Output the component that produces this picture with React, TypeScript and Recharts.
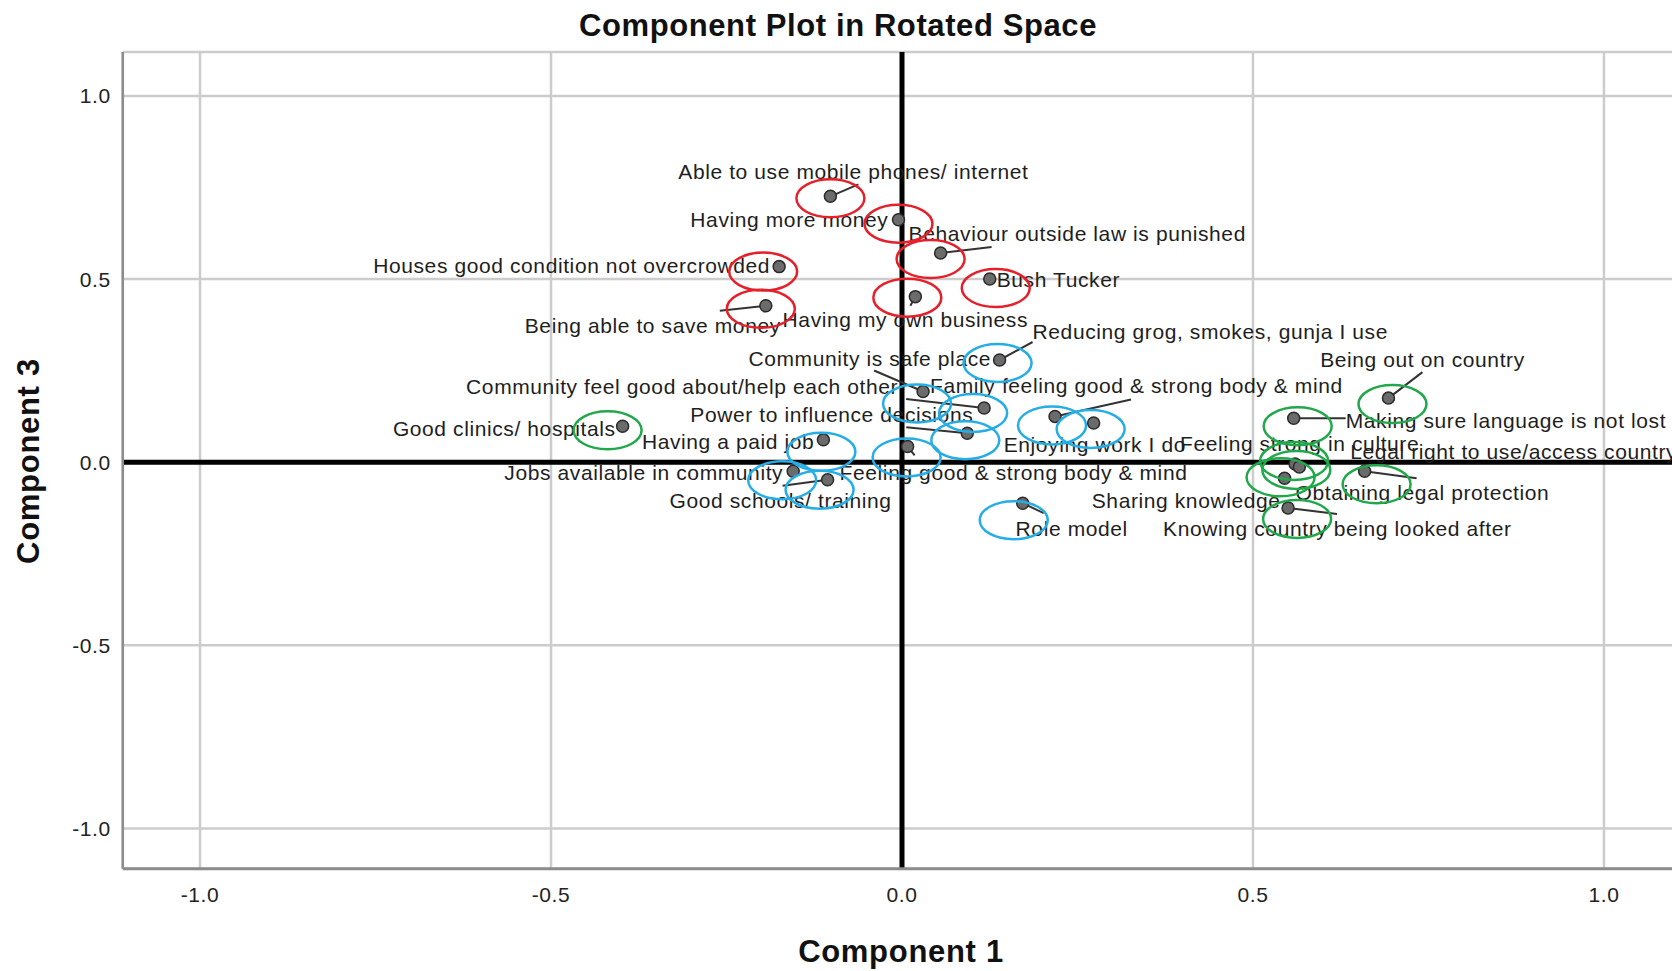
import { CartesianGrid, ReferenceLine, Scatter, ScatterChart, XAxis, YAxis } from 'recharts';

// loadings
const ITEMS = [
  'Able to use mobile phones/ internet',
  'Having more money',
  'Behaviour outside law is punished',
  'Houses good condition not overcrowded',
  'Bush Tucker',
  'Having my own business',
  'Being able to save money',
  'Reducing grog, smokes, gunja I use',
  'Community is safe place',
  'Community feel good about/help each other',
  'Power to influence decisions',
  'Family feeling good & strong body & mind',
  'Enjoying work I do',
  'Feeling good & strong body & mind',
  'Having a paid job',
  'Jobs available in community',
  'Good schools/ training',
  'Role model',
  'Good clinics/ hospitals',
  'Being out on country',
  'Making sure language is not lost',
  'Feeling strong in culture',
  'Legal right to use/access country',
  'Sharing knowledge',
  'Obtaining legal protection',
  'Knowing country being looked after',
];
const COMPONENT_1 = [
  -0.102, -0.005, 0.055, -0.175, 0.125, 0.019, -0.194,
  0.139, 0.030, 0.117, 0.093, 0.218, 0.273, 0.008, -0.112, -0.155, -0.106, 0.172,
  -0.398, 0.693, 0.558, 0.560, 0.566, 0.545, 0.659, 0.550,
];
const COMPONENT_3 = [
  0.726, 0.662, 0.571, 0.534, 0.500, 0.452, 0.427,
  0.279, 0.193, 0.148, 0.079, 0.125, 0.107, 0.043, 0.061, -0.025, -0.048, -0.112,
  0.098, 0.175, 0.120, -0.005, -0.013, -0.044, -0.025, -0.125,
];
// hand-drawn circle group of each item
const CLUSTER = [1, 1, 1, 1, 1, 1, 1, 2, 2, 2, 2, 2, 2, 2, 2, 2, 2, 2, 3, 3, 3, 3, 3, 3, 3, 3];
const TICKS = [-1, -0.5, 0, 0.5, 1];

// label placement (px from the point), leader line ends, ring offsets
const LABEL_AT: [number, number, 'start' | 'middle' | 'end'][] = [
  [23, -25, 'middle'], [-10, 0, 'end'], [-32, -20, 'start'], [-9, -1, 'end'], [7, 0, 'start'],
  [-10, 23, 'middle'], [15, 20, 'end'], [33, -29, 'start'], [68, -33, 'end'], [-86, -21, 'end'],
  [6, -19, 'end'], [-125, -31, 'start'], [-90, 22, 'start'], [-68, 26, 'start'], [-9, 2, 'end'],
  [-10, 1, 'end'], [-47, 21, 'middle'], [49, 25, 'middle'], [-7, 2, 'end'], [34, -39, 'middle'],
  [52, 2, 'start'], [-115, -21, 'start'], [51, -15, 'start'], [-4, 22, 'end'], [-69, 21, 'start'],
  [-125, 21, 'start'],
];
const LEADER_TO: ([number, number] | null)[] = [
  [28, -12], null, [51, -6], null, null, [-5, 9], [-46, 5], [33, -18], [-49, -21], [-78, -9],
  [-61, -6], [76, -17], null, [7, 9], null, null, [-45, 6], [21, 10], null, [34, -26],
  [52, 0], null, null, null, [52, 7], [49, 6],
];
const RING_AT: [number, number][] = [
  [0, 2], [0, 4], [-10, 6], [-16, 5], [6, 9], [-8, 1], [-5, 3], [-2, 3], [-6, 12], [-11, 5],
  [-2, 7], [-3, 9], [-3, 6], [-1, 11], [-2, 12], [-11, 9], [-8, 10], [-9, 17], [-15, 4], [4, 6],
  [4, 8], [-1, -3], [-3, 3], [-4, -1], [12, 13], [9, 11],
];
const RING_COLORS: Record<number, string> = { 1: '#e6202a', 2: '#25ade6', 3: '#20a84a' };

const FONT = '"Liberation Sans", Arial, sans-serif';

const data = ITEMS.map((name, i) => ({ i, name, c1: COMPONENT_1[i], c3: COMPONENT_3[i], cluster: CLUSTER[i] }));

function PointMark(props: any) {
  const { cx, cy, payload } = props;
  const [lx, ly, anchor] = LABEL_AT[payload.i];
  const lead = LEADER_TO[payload.i];
  return (
    <g>
      {lead && <line x1={cx} y1={cy} x2={cx + lead[0]} y2={cy + lead[1]} stroke="#333" strokeWidth={2} />}
      <text x={cx + lx} y={cy + ly} textAnchor={anchor} dominantBaseline="central" fontSize={21} letterSpacing={0.6} fill="#1e1e1e" fontFamily={FONT}>
        {payload.name}
      </text>
      <circle cx={cx} cy={cy} r={6} fill="#6b6b6b" stroke="#2b2b2b" strokeWidth={1.5} />
    </g>
  );
}

function RingMark(props: any) {
  const { cx, cy, payload } = props;
  const [ex, ey] = RING_AT[payload.i];
  return <ellipse cx={cx + ex} cy={cy + ey} rx={34} ry={19} fill="none" stroke={RING_COLORS[payload.cluster]} strokeWidth={2.5} />;
}

const tickStyle = { fill: '#222', fontSize: 21, fontFamily: FONT, letterSpacing: 0.6 };

export default function App() {
  return (
    <div style={{ position: 'fixed', left: 0, top: 0, width: 1672, height: 971, overflow: 'hidden', background: '#fff' }}>
      <ScatterChart width={1700} height={971} margin={{ top: 52, right: 18.8, bottom: 52.3, left: 62.8 }}>
        <CartesianGrid stroke="#cccccc" strokeWidth={2.5} />
        <XAxis
          type="number"
          dataKey="c1"
          domain={[-1.11, 1.11]}
          ticks={TICKS}
          allowDataOverflow
          height={50}
          tickSize={0}
          tickMargin={18}
          tickLine={false}
          axisLine={{ stroke: '#8c8c8c', strokeWidth: 3 }}
          tick={tickStyle}
          tickFormatter={(v: number) => v.toFixed(1)}
        />
        <YAxis
          type="number"
          dataKey="c3"
          domain={[-1.11, 1.12]}
          ticks={TICKS}
          allowDataOverflow
          width={60}
          tickSize={0}
          tickMargin={12}
          tickLine={false}
          axisLine={{ stroke: '#8c8c8c', strokeWidth: 2.5 }}
          tick={tickStyle}
          tickFormatter={(v: number) => v.toFixed(1)}
        />
        <ReferenceLine x={0} stroke="#000" strokeWidth={5} />
        <ReferenceLine y={0} stroke="#000" strokeWidth={5} />
        <Scatter data={data} shape={PointMark} isAnimationActive={false} />
        <Scatter data={data} shape={RingMark} isAnimationActive={false} />
      </ScatterChart>
      <div style={{ position: 'absolute', left: 0, top: 8, width: 1676, textAlign: 'center', font: `bold 31px ${FONT}`, letterSpacing: 0.6, lineHeight: '36px', color: '#111' }}>
        Component Plot in Rotated Space
      </div>
      <div style={{ position: 'absolute', left: 0, top: 934, width: 1802, textAlign: 'center', font: `bold 31px ${FONT}`, letterSpacing: 0.7, lineHeight: '36px', color: '#111' }}>
        Component 1
      </div>
      <div
        style={{
          position: 'absolute', left: 29 - 150, top: 461 - 18, width: 300, textAlign: 'center', transform: 'rotate(-90deg)',
          font: `bold 31px ${FONT}`, letterSpacing: 0.7, lineHeight: '36px', color: '#111',
        }}
      >
        Component 3
      </div>
    </div>
  );
}
